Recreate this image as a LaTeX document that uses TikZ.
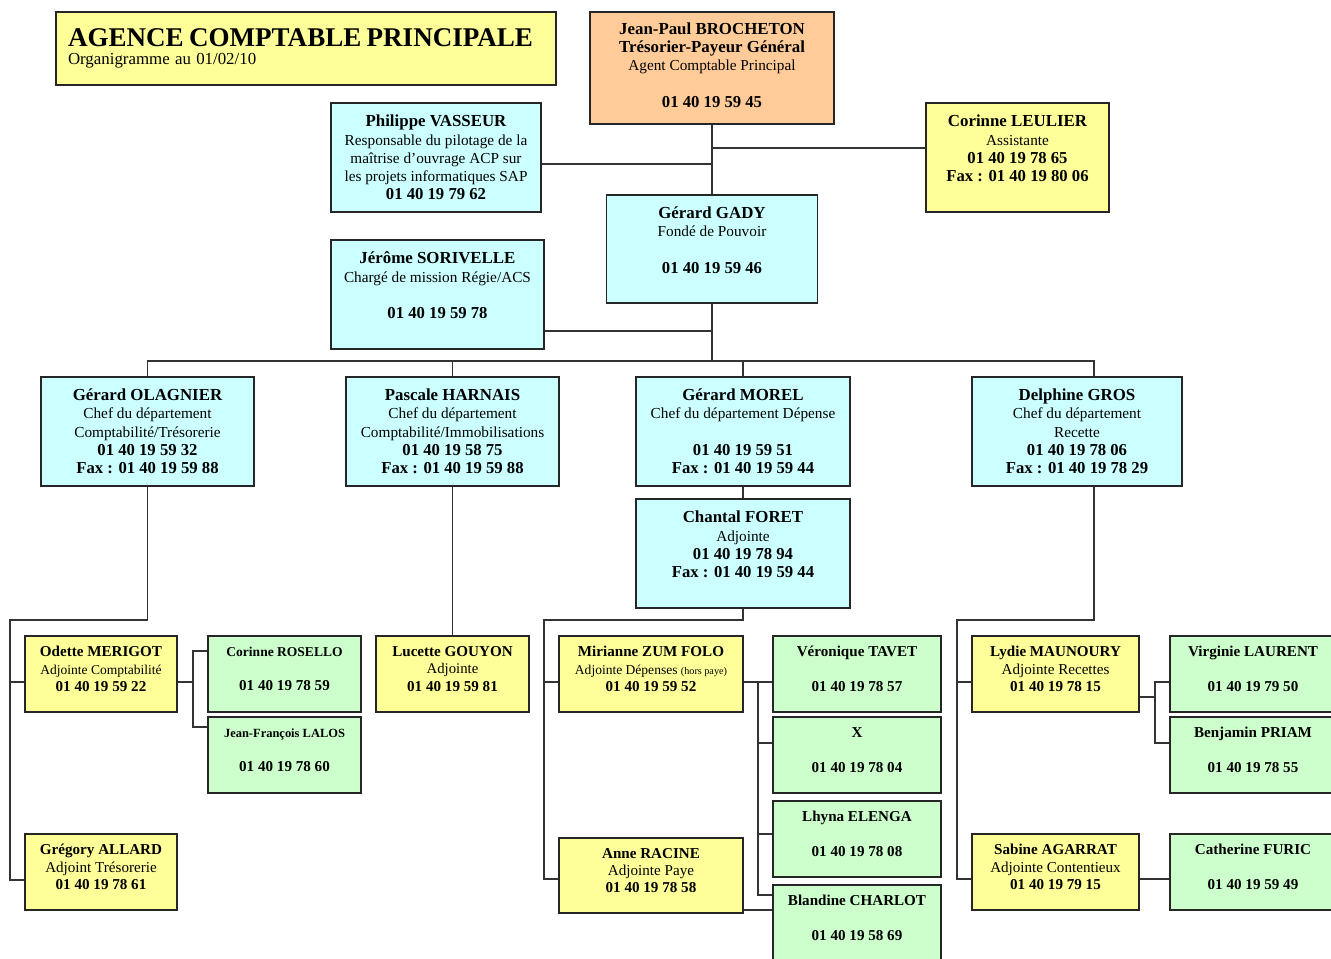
\documentclass[tikz,border=0pt]{standalone}
\usepackage{fontspec}
\setmainfont{Liberation Serif}
\definecolor{jaunepale}{HTML}{FFFF99}
\definecolor{bleupale}{HTML}{CCFFFF}
\definecolor{orangepale}{HTML}{FFCC99}
\definecolor{vertpale}{HTML}{CCFFCC}
%% text lines of the boxes
\newcommand\nom[2][9.6]{{\fontsize{#1}{10}\selectfont\bfseries #2}}
\newcommand\fonction[2][8.7]{{\fontsize{#1}{10}\selectfont #2}}
\newcommand\tel[2][9.5]{{\fontsize{#1}{10}\selectfont\bfseries #2}}
\newcommand\fin{\\[-4pt]\mbox{}}
\tikzset{
  poste/.style={draw=black!85,line width=0.8pt,rectangle,inner sep=0pt,align=center,font=\fontsize{9}{10.4}\selectfont},
  petit/.style={font=\fontsize{8.5}{9.8}\selectfont},
  dim/.style 2 args={minimum width=#1*0.02cm,minimum height=#2*0.02cm},
  lien/.style={draw=black!80,line width=0.6pt},
}
\begin{document}
\begin{tikzpicture}[x=0.02cm,y=-0.02cm]
  \useasboundingbox (0,0) rectangle (1331,958);
  %% Title
  \node[poste,fill=jaunepale,dim={500}{73},text width=476*0.02cm,align=left] (titre) at (306,48.5)
    {\mbox{\fontsize{15.4}{18}\selectfont\bfseries AGENCE COMPTABLE PRINCIPALE}\\ {\fontsize{9.6}{11}\selectfont Organigramme au 01/02/10}};
  %% Direction
  \node[poste,fill=orangepale,dim={244}{112}] (acp) at (712,68)
    {\nom{Jean-Paul BROCHETON}\\ \nom{Trésorier-Payeur Général}\\ \fonction{Agent Comptable Principal}\\ \\ \tel{01 40 19 59 45}\\[-7pt]\mbox{}};
  \node[poste,fill=bleupale,dim={210}{109}] (vasseur) at (436,157.5)
    {\nom{Philippe VASSEUR}\\ \fonction{Responsable du pilotage de la}\\ \fonction{maîtrise d’ouvrage ACP sur}\\ \fonction{les projets informatiques SAP}\\ \tel{01 40 19 79 62}};
  \node[poste,fill=jaunepale,dim={183}{109}] (leulier) at (1017.5,157.5)
    {\nom{Corinne LEULIER}\\ \fonction{Assistante}\\ \tel{01 40 19 78 65}\\ \tel{Fax : 01 40 19 80 06}\\ \mbox{}};
  \node[poste,fill=bleupale,dim={211}{108}] (gady) at (712,249)
    {\nom{Gérard GADY}\\ \fonction{Fondé de Pouvoir}\\ \\ \tel{01 40 19 59 46}\\ \mbox{}};
  \node[poste,fill=bleupale,dim={213}{109}] (sorivelle) at (437.5,294.5)
    {\nom{Jérôme SORIVELLE}\\ \fonction{Chargé de mission Régie/ACS}\\ \\ \tel{01 40 19 59 78}\\ \mbox{}};
  %% Departments
  \node[poste,fill=bleupale,dim={213}{109}] (olagnier) at (147.5,431.5)
    {\nom{Gérard OLAGNIER}\\ \fonction{Chef du département}\\ \fonction{Comptabilité/Trésorerie}\\ \tel{01 40 19 59 32}\\ \tel{Fax : 01 40 19 59 88}};
  \node[poste,fill=bleupale,dim={213}{109}] (harnais) at (452.5,431.5)
    {\nom{Pascale HARNAIS}\\ \fonction{Chef du département}\\ \fonction{Comptabilité/Immobilisations}\\ \tel{01 40 19 58 75}\\ \tel{Fax : 01 40 19 59 88}};
  \node[poste,fill=bleupale,dim={214}{109}] (morel) at (743,431.5)
    {\nom{Gérard MOREL}\\ \fonction{Chef du département Dépense}\\ \\ \tel{01 40 19 59 51}\\ \tel{Fax : 01 40 19 59 44}};
  \node[poste,fill=bleupale,dim={210}{109}] (gros) at (1077,431.5)
    {\nom{Delphine GROS}\\ \fonction{Chef du département}\\ \fonction{Recette}\\ \tel{01 40 19 78 06}\\ \tel{Fax : 01 40 19 78 29}};
  \node[poste,fill=bleupale,dim={214}{109}] (foret) at (743,553.5)
    {\nom{Chantal FORET}\\ \fonction{Adjointe}\\ \tel{01 40 19 78 94}\\ \tel{Fax : 01 40 19 59 44}\\ \mbox{}};
  %% Comptabilite / Tresorerie
  \node[poste,petit,fill=jaunepale,dim={152}{76}] (merigot) at (101,674)
    {\nom[8.6]{Odette MERIGOT}\\ \fonction[7.7]{Adjointe Comptabilité}\\ \tel[8.6]{01 40 19 59 22}\fin};
  \node[poste,petit,fill=vertpale,dim={153}{76}] (rosello) at (284.5,674)
    {\nom[7.7]{Corinne ROSELLO}\\ \\ \tel[8.6]{01 40 19 78 59}\fin};
  \node[poste,petit,fill=vertpale,dim={153}{76}] (lalos) at (284.5,755)
    {\nom[7.1]{Jean-François LALOS}\\ \\ \tel[8.6]{01 40 19 78 60}\fin};
  \node[poste,petit,fill=jaunepale,dim={152}{76}] (allard) at (101,872)
    {\nom[8.6]{Grégory ALLARD}\\ \fonction[8.6]{Adjoint Trésorerie}\\ \tel[8.6]{01 40 19 78 61}\fin};
  \node[poste,petit,fill=jaunepale,dim={153}{76}] (gouyon) at (452.5,674)
    {\nom[8.6]{Lucette GOUYON}\\ \fonction[8.4]{Adjointe}\\ \tel[8.6]{01 40 19 59 81}\fin};
  %% Depense
  \node[poste,petit,fill=jaunepale,dim={184}{76}] (zumfolo) at (651,674)
    {\nom[8.6]{Mirianne ZUM FOLO}\\ \fonction[7.7]{Adjointe Dépenses {\fontsize{5.8}{6}\selectfont(hors paye)}}\\ \tel[8.6]{01 40 19 59 52}\fin};
  \node[poste,petit,fill=jaunepale,dim={184}{75}] (racine) at (651,875.5)
    {\nom[8.6]{Anne RACINE}\\ \fonction[8.6]{Adjointe Paye}\\ \tel[8.6]{01 40 19 78 58}\fin};
  \node[poste,petit,fill=vertpale,dim={168}{76}] (tavet) at (857,674)
    {\nom[8.6]{Véronique TAVET}\\ \\ \tel[8.6]{01 40 19 78 57}\fin};
  \node[poste,petit,fill=vertpale,dim={168}{76}] (xbox) at (857,755)
    {\nom[8.6]{X}\\ \\ \tel[8.6]{01 40 19 78 04}\fin};
  \node[poste,petit,fill=vertpale,dim={168}{76}] (elenga) at (857,839)
    {\nom[8.6]{Lhyna ELENGA}\\ \\ \tel[8.6]{01 40 19 78 08}\fin};
  \node[poste,petit,fill=vertpale,dim={168}{76}] (charlot) at (857,923)
    {\nom[8.6]{Blandine CHARLOT}\\ \\ \tel[8.6]{01 40 19 58 69}\fin};
  %% Recette
  \node[poste,petit,fill=jaunepale,dim={167}{76}] (maunoury) at (1055.5,674)
    {\nom[8.6]{Lydie MAUNOURY}\\ \fonction[8.6]{Adjointe Recettes}\\ \tel[8.6]{01 40 19 78 15}\fin};
  \node[poste,petit,fill=jaunepale,dim={167}{76}] (agarrat) at (1055.5,872)
    {\nom[8.6]{Sabine AGARRAT}\\ \fonction[8.6]{Adjointe Contentieux}\\ \tel[8.6]{01 40 19 79 15}\fin};
  \node[poste,petit,fill=vertpale,dim={166}{76}] (laurent) at (1253,674)
    {\nom[8.6]{Virginie LAURENT}\\ \\ \tel[8.6]{01 40 19 79 50}\fin};
  \node[poste,petit,fill=vertpale,dim={166}{76}] (priam) at (1253,755)
    {\nom[8.6]{Benjamin PRIAM}\\ \\ \tel[8.6]{01 40 19 78 55}\fin};
  \node[poste,petit,fill=vertpale,dim={166}{76}] (furic) at (1253,872)
    {\nom[8.6]{Catherine FURIC}\\ \\ \tel[8.6]{01 40 19 59 49}\fin};
  %% Links, top
  \draw[lien] (acp.south) -- (gady.north);
  \draw[lien] (acp.south |- 0,148) -- (leulier.west |- 0,148);
  \draw[lien] (vasseur.east |- 0,164) -- (acp.south |- 0,164);
  \draw[lien] (sorivelle.east |- 0,331) -- (gady.south |- 0,331);
  \draw[lien] (gady.south) -- (gady.south |- 0,361);
  \draw[lien] (olagnier.north) |- (1094,361) -- (gros.north -| 1094,0);
  \draw[lien] (harnais.north) -- (harnais.north |- 0,361);
  \draw[lien] (morel.north) -- (morel.north |- 0,361);
  %% Links, Comptabilite / Tresorerie
  \draw[lien] (olagnier.south) |- (10,620) |- (merigot.west |- 0,682);
  \draw[lien] (10,682) |- (allard.west |- 0,880);
  \draw[lien] (merigot.east |- 0,682) -- (193,682);
  \draw[lien] (rosello.west |- 0,651) -| (193,727) -- (lalos.west |- 0,727);
  \draw[lien] (harnais.south) -- (gouyon.north);
  %% Links, Depense
  \draw[lien] (morel.south) -- (foret.north);
  \draw[lien] (foret.south) |- (544,620) |- (zumfolo.west |- 0,682);
  \draw[lien] (544,682) |- (racine.west |- 0,879);
  \draw[lien] (zumfolo.east |- 0,682) -- (tavet.west |- 0,682);
  \draw[lien] (758,682) |- (xbox.west |- 0,743);
  \draw[lien] (758,743) |- (elenga.west |- 0,834);
  \draw[lien] (758,834) |- (charlot.west |- 0,895);
  \draw[lien] (racine.east |- 0,910) -- (charlot.west |- 0,910);
  %% Links, Recette
  \draw[lien] (gros.south -| 1094,0) |- (957,620) |- (maunoury.west |- 0,682);
  \draw[lien] (957,682) |- (agarrat.west |- 0,879);
  \draw[lien] (maunoury.east |- 0,697) -- (1155,697);
  \draw[lien] (laurent.west |- 0,682) -| (1155,743) -- (priam.west |- 0,743);
  \draw[lien] (agarrat.east |- 0,879) -- (furic.west |- 0,879);
\end{tikzpicture}
\end{document}
